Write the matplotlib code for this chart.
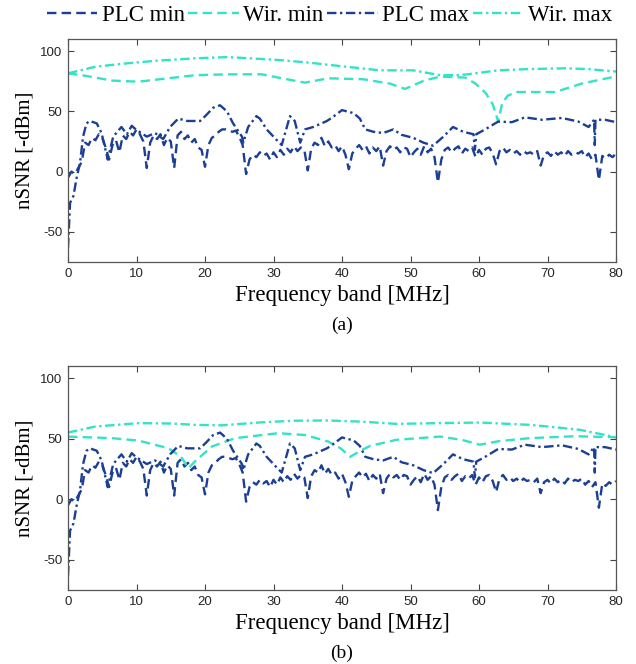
import matplotlib
matplotlib.use("Agg")
import matplotlib.pyplot as plt
import numpy as np

plt.rcParams['axes.unicode_minus'] = False

# frequency grid for the noisy PLC min curve (0.5 MHz steps)
plc_min_f = np.arange(0, 80.5, 0.5)
plc_min = [
    -5, 0, -2, 3, 8, 24, 22, 28, 26, 31, 28, 20, 10, 22, 26, 16, 30, 27, 33, 30,
    35, 31, 25, 3, 24, 30, 27, 31, 22, 28, 25, 3, 30, 33, 27, 30, 24, 27, 20, 18,
    4, 22, 28, 30, 33, 35, 35, 34, 33, 34, 29, 22, -2, 10, 14, 12, 16, 13, 15, 10,
    16, 12, 18, 14, 19, 16, 21, 17, 20, 18, 1, 19, 24, 22, 28, 21, 25, 20, 22, 17,
    21, 14, 2, 15, 19, 22, 18, 21, 15, 20, 17, 21, 5, 17, 21, 18, 20, 16, 20, 19,
    12, 16, 19, 14, 21, 16, 19, 12, -9, 10, 18, 20, 16, 19, 21, 15, 19, 17, 20, 12,
    18, 14, 19, 20, 15, 6, 17, 20, 16, 18, 15, 17, 14, 17, 15, 16, 14, 17, 5, 14,
    16, 13, 17, 14, 16, 13, 17, 14, 16, 15, 17, 12, 15, 10, 14, -7, 13, 11, 14, 12,
    15,
]

plc_max_f = [0, 0.3, 0.8, 1.3, 1.75, 2.2, 2.7, 3.2, 4.2, 4.9, 5.8, 6.6, 7.8, 8.6,
             9.3, 9.9, 11.5, 12.7, 13.9, 14.9, 16.1, 17.4, 19.3, 20.2, 21.2, 22.2,
             23.2, 24.1, 25.4, 25.6, 26.3, 27.5, 28, 29, 30.5, 31.2, 32.4, 33.1,
             33.9, 34.6, 35.8, 37.8, 38.6, 40, 41.7, 42.6, 43.4, 44.6, 46, 47.5,
             48.7, 50.4, 51.9, 53.3, 54.8, 56.2, 57.7, 59.2, 59.4, 59.6, 60.9, 62.8,
             64.8, 66.7, 69.2, 72.1, 74.5, 76, 76.8, 76.9, 77, 78.4, 80]
plc_max = [-63, -26, -20, -4, 7, 29, 40, 42, 40, 32, 10, 29, 37, 31,
           38, 35, 29, 32, 27, 37, 44, 42, 42, 47, 53, 55,
           50, 40, 29, 24, 37, 46, 44, 35, 26, 22, 46, 42,
           24, 35, 37, 42, 45, 51, 48.5, 44, 35, 33, 32, 35,
           30.5, 28, 24, 21.5, 29, 37, 33, 31, 18, 31, 35, 41.5,
           41, 45, 43, 44.5, 41.5, 37, 43, 22, 43, 43, 41]

# wireless, scenario (a)
wa_max_f = [0, 4, 8.9, 13, 18.6, 23.4, 30.7, 35, 39, 45.5, 50.4, 54.3, 56.7, 58,
            62.8, 67, 72.6, 76, 80]
wa_max = [81.5, 87, 90, 92, 94, 95, 92.6, 90.5, 88, 84, 84, 80, 80, 80.5,
          84, 85, 85.7, 85, 83]
wa_min_f = [0, 2, 4, 6.4, 10.3, 14, 18.6, 23.4, 28.3, 31.2, 34.6, 38, 43.1, 47,
            49.2, 52, 54.3, 58, 59.5, 61, 62, 62.8, 63.4, 64.2, 65.5, 71.1, 75, 80]
wa_min = [81.5, 80, 78, 75.5, 74.6, 77, 80, 80.7, 80.7, 77.4, 73.8, 77.4, 76.6, 73,
          68.6, 75.5, 78.8, 78, 73, 65, 56, 41.5, 57, 63, 66, 66, 73, 79]

# wireless, scenario (b)
wb_max_f = [0, 4, 10.3, 15, 18.6, 22.4, 28.3, 33, 38, 43, 47.9, 54, 60.1, 67.4,
            71, 74.7, 78, 80]
wb_max = [55, 60, 62.8, 62.5, 61.4, 61, 63.5, 64.8, 65, 64, 62.2, 62.8, 63.3, 61.4,
          59.5, 57.3, 53.5, 51]
wb_min_f = [0, 6.4, 10.3, 14.7, 16.5, 17.6, 18.5, 21, 24.4, 30.7, 34.6, 38, 39.8,
            41.2, 42.7, 44.1, 47.9, 54.3, 57.5, 60.1, 63, 67.4, 74, 80]
wb_min = [51.7, 50.4, 48.4, 42, 35, 25.6, 31, 43.5, 50.4, 54.5, 53, 47.6, 42,
          35, 40, 44, 49, 51.7, 49, 45, 48, 50.4, 52, 51.2]

plc_col = '#1c3f94'
wir_col = '#33e3c6'
serif = 'Liberation Serif'
sans = 'Liberation Sans'

fig = plt.figure(figsize=(6.36, 6.64), dpi=100)
W, H = 636, 664
boxes = [(68, 39, 616, 262), (68, 366, 616, 590)]
wir_data = [(wa_min_f, wa_min, wa_max_f, wa_max), (wb_min_f, wb_min, wb_max_f, wb_max)]
tags = ['(a)', '(b)']

for box, wd, tag in zip(boxes, wir_data, tags):
    l, t, r, b = box
    ax = fig.add_axes([l / W, 1 - b / H, (r - l) / W, (b - t) / H])
    ax.plot(plc_min_f, plc_min, color=plc_col, lw=1.7, ls=(0, (4, 2.2)), label='PLC min')
    ax.plot(wd[0], wd[1], color=wir_col, lw=1.7, ls=(0, (4, 2.2)), label='Wir. min')
    ax.plot(plc_max_f, plc_max, color=plc_col, lw=1.7, ls=(0, (4, 1.5, 1, 1.5)), label='PLC max')
    ax.plot(wd[2], wd[3], color=wir_col, lw=1.7, ls=(0, (4, 1.5, 1, 1.5)), label='Wir. max')
    ax.set_xlim(0, 80)
    ax.set_ylim(-75, 110)
    ax.set_xticks(range(0, 81, 10))
    ax.set_yticks([-50, 0, 50, 100])
    ax.tick_params(direction='in', top=True, right=True, length=4, width=0.8,
                   color='#444444', labelsize=9.5, labelcolor='#262626',
                   labelfontfamily=sans, pad=4)
    for s in ax.spines.values():
        s.set_color('#555555')
        s.set_linewidth(0.9)
    ax.set_xlabel('Frequency band [MHz]', fontsize=16.5, family=serif, va='center')
    ax.xaxis.set_label_coords(0.5, -34 / (b - t))
    ax.set_ylabel('nSNR [-dBm]', fontsize=15, family=serif, va='center')
    ax.yaxis.set_label_coords((25 - l) / (r - l), 0.5)
    fig.text((l + r) / 2 / W, 1 - (b + 63) / H, tag, fontsize=14, family=serif,
             ha='center', va='center')
    if tag == '(a)':
        handles, labels = ax.get_legend_handles_labels()

fig.legend(handles, labels, loc='center', bbox_to_anchor=(0.518, 1 - 15 / H), ncol=4,
           frameon=False, prop={'family': serif, 'size': 16.5}, handlelength=2.2,
           handletextpad=0.2, columnspacing=0.15, borderaxespad=0)

fig.savefig('out.png', dpi=100)
